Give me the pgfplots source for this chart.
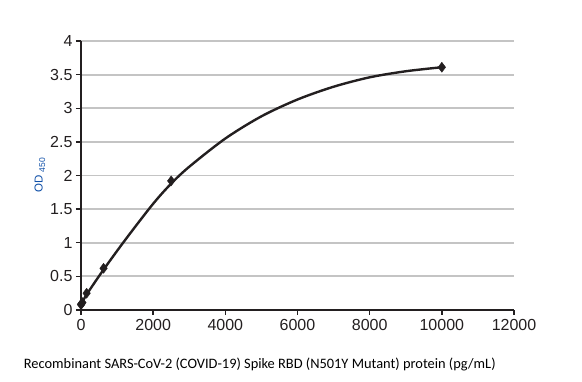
\documentclass[border=0pt]{standalone}
\usepackage{pgfplots}
\pgfplotsset{compat=1.18}
\usepackage{fontspec}
\setmainfont{Liberation Sans}
\newfontfamily\calfont{Carlito}
\definecolor{dk}{HTML}{231F20}
\definecolor{gr}{HTML}{C4C4C4}
\definecolor{lb}{HTML}{0F4FA8}
\begin{document}
\begin{tikzpicture}
\begin{axis}[
  at={(0,0)}, anchor=south west,
  scale only axis, width=433pt, height=269pt,
  xmin=0, xmax=12000, ymin=0, ymax=4,
  axis x line*=bottom, axis y line*=left,
  axis line style={dk, line width=1.8pt},
  xtick={0,2000,...,12000},
  ytick={0,0.5,...,4},
  tick align=outside,
  major tick length=5pt,
  tick style={dk, line width=1.4pt},
  ymajorgrids,
  grid style={gr, line width=1.8pt},
  /pgf/number format/assume math mode=true,
  scaled x ticks=false,
  xticklabel style={/pgf/number format/1000 sep={}},
  yticklabel style={/pgf/number format/fixed},
  tick label style={font=\fontsize{16}{18}\selectfont, text=dk},
  xticklabel style={yshift=-1pt},
  ylabel={OD \raisebox{-0.4ex}{\fontsize{8.5}{9}\selectfont 450}},
  ylabel style={at={(axis description cs:-0.095,0.5)}, anchor=center, font=\fontsize{11.5}{12}\selectfont, text=lb},
  xlabel={Recombinant SARS-CoV-2 (COVID-19) Spike RBD (N501Y Mutant) protein (pg/mL)},
  xlabel style={at={(axis description cs:0.413,-0.204)}, anchor=center, font=\calfont\fontsize{14.4}{16}\selectfont, text=black},
  clip=false,
]
\addplot[dk, line width=2.4pt, smooth, no marks] coordinates {
  (0,0.08) (156,0.23) (625,0.6) (1250,1.06) (2000,1.58) (2500,1.88) (3000,2.13)
  (4000,2.55) (5000,2.88) (6000,3.13) (7000,3.32) (8000,3.46) (9000,3.55) (10000,3.61)
};
\addplot[only marks, mark=diamond*, mark size=5pt, color=dk] coordinates {
  (0,0.08) (9.8,0.09) (39,0.11) (156,0.25) (625,0.62) (2500,1.92) (10000,3.61)
};
\end{axis}
\path[use as bounding box] (-81pt,-72pt) rectangle (501pt,310pt);
\end{tikzpicture}
\end{document}
